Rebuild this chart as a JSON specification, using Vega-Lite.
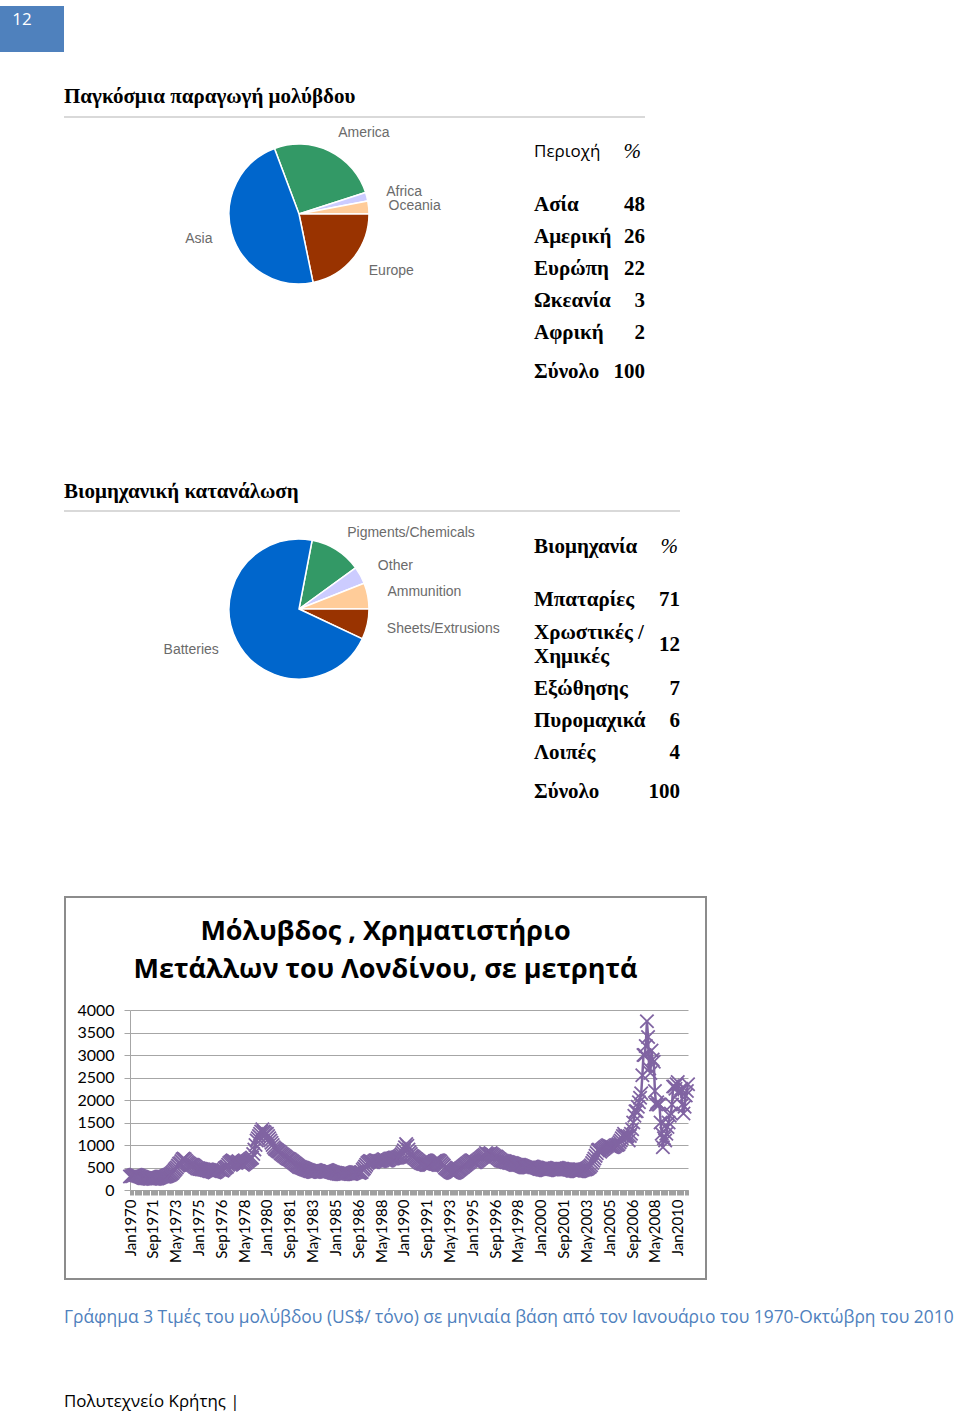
{
"$schema": "https://vega.github.io/schema/vega-lite/v6.json",
"background": "white",
"padding": {"left": 0, "top": 6, "right": 0, "bottom": 12},
"config": {"view": {"stroke": null}},
"datasets": {
"pie1": [{"en":"America","v":26,"o":1},{"en":"Africa","v":2,"o":2},{"en":"Oceania","v":3,"o":3},{"en":"Europe","v":22,"o":4},{"en":"Asia","v":48,"o":5}],
"pie2": [{"en":"Pigments/Chemicals","v":12,"o":1},{"en":"Other","v":4,"o":2},{"en":"Ammunition","v":6,"o":3},{"en":"Sheets/Extrusions","v":7,"o":4},{"en":"Batteries","v":71,"o":5}],
"lead": [
{"m":"Jan1970","p":300},{"m":"Feb1970","p":305},{"m":"Mar1970","p":310},{"m":"Apr1970","p":320},{"m":"May1970","p":330},{"m":"Jun1970","p":335},{"m":"Jul1970","p":330},{"m":"Aug1970","p":320},{"m":"Sep1970","p":310},{"m":"Oct1970","p":300},{"m":"Nov1970","p":290},{"m":"Dec1970","p":280},
{"m":"Jan1971","p":270},{"m":"Feb1971","p":265},{"m":"Mar1971","p":265},{"m":"Apr1971","p":260},{"m":"May1971","p":255},{"m":"Jun1971","p":250},{"m":"Jul1971","p":250},{"m":"Aug1971","p":255},{"m":"Sep1971","p":250},{"m":"Oct1971","p":245},{"m":"Nov1971","p":250},{"m":"Dec1971","p":255},
{"m":"Jan1972","p":260},{"m":"Feb1972","p":270},{"m":"Mar1972","p":280},{"m":"Apr1972","p":290},{"m":"May1972","p":300},{"m":"Jun1972","p":300},{"m":"Jul1972","p":295},{"m":"Aug1972","p":300},{"m":"Sep1972","p":310},{"m":"Oct1972","p":320},{"m":"Nov1972","p":330},{"m":"Dec1972","p":340},
{"m":"Jan1973","p":360},{"m":"Feb1973","p":380},{"m":"Mar1973","p":410},{"m":"Apr1973","p":440},{"m":"May1973","p":470},{"m":"Jun1973","p":500},{"m":"Jul1973","p":540},{"m":"Aug1973","p":580},{"m":"Sep1973","p":600},{"m":"Oct1973","p":640},{"m":"Nov1973","p":680},{"m":"Dec1973","p":700},
{"m":"Jan1974","p":680},{"m":"Feb1974","p":650},{"m":"Mar1974","p":620},{"m":"Apr1974","p":600},{"m":"May1974","p":580},{"m":"Jun1974","p":560},{"m":"Jul1974","p":560},{"m":"Aug1974","p":560},{"m":"Sep1974","p":540},{"m":"Oct1974","p":520},{"m":"Nov1974","p":500},{"m":"Dec1974","p":480},
{"m":"Jan1975","p":480},{"m":"Feb1975","p":470},{"m":"Mar1975","p":470},{"m":"Apr1975","p":460},{"m":"May1975","p":460},{"m":"Jun1975","p":450},{"m":"Jul1975","p":450},{"m":"Aug1975","p":440},{"m":"Sep1975","p":440},{"m":"Oct1975","p":430},{"m":"Nov1975","p":420},{"m":"Dec1975","p":420},
{"m":"Jan1976","p":410},{"m":"Feb1976","p":400},{"m":"Mar1976","p":390},{"m":"Apr1976","p":400},{"m":"May1976","p":420},{"m":"Jun1976","p":440},{"m":"Jul1976","p":460},{"m":"Aug1976","p":450},{"m":"Sep1976","p":440},{"m":"Oct1976","p":430},{"m":"Nov1976","p":450},{"m":"Dec1976","p":480},
{"m":"Jan1977","p":500},{"m":"Feb1977","p":520},{"m":"Mar1977","p":560},{"m":"Apr1977","p":600},{"m":"May1977","p":620},{"m":"Jun1977","p":640},{"m":"Jul1977","p":660},{"m":"Aug1977","p":640},{"m":"Sep1977","p":620},{"m":"Oct1977","p":600},{"m":"Nov1977","p":620},{"m":"Dec1977","p":640},
{"m":"Jan1978","p":620},{"m":"Feb1978","p":600},{"m":"Mar1978","p":580},{"m":"Apr1978","p":560},{"m":"May1978","p":580},{"m":"Jun1978","p":600},{"m":"Jul1978","p":620},{"m":"Aug1978","p":640},{"m":"Sep1978","p":660},{"m":"Oct1978","p":680},{"m":"Nov1978","p":700},{"m":"Dec1978","p":720},
{"m":"Jan1979","p":800},{"m":"Feb1979","p":900},{"m":"Mar1979","p":1000},{"m":"Apr1979","p":1100},{"m":"May1979","p":1150},{"m":"Jun1979","p":1200},{"m":"Jul1979","p":1250},{"m":"Aug1979","p":1300},{"m":"Sep1979","p":1350},{"m":"Oct1979","p":1300},{"m":"Nov1979","p":1280},{"m":"Dec1979","p":1250},
{"m":"Jan1980","p":1250},{"m":"Feb1980","p":1200},{"m":"Mar1980","p":1150},{"m":"Apr1980","p":1100},{"m":"May1980","p":1050},{"m":"Jun1980","p":1000},{"m":"Jul1980","p":950},{"m":"Aug1980","p":920},{"m":"Sep1980","p":900},{"m":"Oct1980","p":880},{"m":"Nov1980","p":860},{"m":"Dec1980","p":850},
{"m":"Jan1981","p":820},{"m":"Feb1981","p":800},{"m":"Mar1981","p":780},{"m":"Apr1981","p":760},{"m":"May1981","p":740},{"m":"Jun1981","p":720},{"m":"Jul1981","p":700},{"m":"Aug1981","p":690},{"m":"Sep1981","p":680},{"m":"Oct1981","p":660},{"m":"Nov1981","p":640},{"m":"Dec1981","p":620},
{"m":"Jan1982","p":600},{"m":"Feb1982","p":580},{"m":"Mar1982","p":560},{"m":"Apr1982","p":540},{"m":"May1982","p":520},{"m":"Jun1982","p":510},{"m":"Jul1982","p":500},{"m":"Aug1982","p":490},{"m":"Sep1982","p":480},{"m":"Oct1982","p":470},{"m":"Nov1982","p":460},{"m":"Dec1982","p":450},
{"m":"Jan1983","p":440},{"m":"Feb1983","p":430},{"m":"Mar1983","p":420},{"m":"Apr1983","p":420},{"m":"May1983","p":410},{"m":"Jun1983","p":400},{"m":"Jul1983","p":400},{"m":"Aug1983","p":410},{"m":"Sep1983","p":420},{"m":"Oct1983","p":420},{"m":"Nov1983","p":410},{"m":"Dec1983","p":400},
{"m":"Jan1984","p":400},{"m":"Feb1984","p":410},{"m":"Mar1984","p":420},{"m":"Apr1984","p":430},{"m":"May1984","p":440},{"m":"Jun1984","p":440},{"m":"Jul1984","p":430},{"m":"Aug1984","p":420},{"m":"Sep1984","p":410},{"m":"Oct1984","p":400},{"m":"Nov1984","p":390},{"m":"Dec1984","p":380},
{"m":"Jan1985","p":380},{"m":"Feb1985","p":370},{"m":"Mar1985","p":370},{"m":"Apr1985","p":360},{"m":"May1985","p":360},{"m":"Jun1985","p":350},{"m":"Jul1985","p":350},{"m":"Aug1985","p":350},{"m":"Sep1985","p":360},{"m":"Oct1985","p":360},{"m":"Nov1985","p":370},{"m":"Dec1985","p":370},
{"m":"Jan1986","p":370},{"m":"Feb1986","p":360},{"m":"Mar1986","p":360},{"m":"Apr1986","p":370},{"m":"May1986","p":380},{"m":"Jun1986","p":390},{"m":"Jul1986","p":400},{"m":"Aug1986","p":400},{"m":"Sep1986","p":390},{"m":"Oct1986","p":380},{"m":"Nov1986","p":390},{"m":"Dec1986","p":400},
{"m":"Jan1987","p":450},{"m":"Feb1987","p":480},{"m":"Mar1987","p":520},{"m":"Apr1987","p":560},{"m":"May1987","p":600},{"m":"Jun1987","p":620},{"m":"Jul1987","p":640},{"m":"Aug1987","p":640},{"m":"Sep1987","p":620},{"m":"Oct1987","p":620},{"m":"Nov1987","p":640},{"m":"Dec1987","p":660},
{"m":"Jan1988","p":660},{"m":"Feb1988","p":650},{"m":"Mar1988","p":640},{"m":"Apr1988","p":640},{"m":"May1988","p":650},{"m":"Jun1988","p":660},{"m":"Jul1988","p":680},{"m":"Aug1988","p":680},{"m":"Sep1988","p":660},{"m":"Oct1988","p":650},{"m":"Nov1988","p":660},{"m":"Dec1988","p":680},
{"m":"Jan1989","p":700},{"m":"Feb1989","p":700},{"m":"Mar1989","p":700},{"m":"Apr1989","p":710},{"m":"May1989","p":720},{"m":"Jun1989","p":720},{"m":"Jul1989","p":720},{"m":"Aug1989","p":730},{"m":"Sep1989","p":740},{"m":"Oct1989","p":760},{"m":"Nov1989","p":790},{"m":"Dec1989","p":830},
{"m":"Jan1990","p":880},{"m":"Feb1990","p":950},{"m":"Mar1990","p":1020},{"m":"Apr1990","p":980},{"m":"May1990","p":900},{"m":"Jun1990","p":840},{"m":"Jul1990","p":800},{"m":"Aug1990","p":760},{"m":"Sep1990","p":740},{"m":"Oct1990","p":720},{"m":"Nov1990","p":700},{"m":"Dec1990","p":680},
{"m":"Jan1991","p":660},{"m":"Feb1991","p":640},{"m":"Mar1991","p":620},{"m":"Apr1991","p":600},{"m":"May1991","p":590},{"m":"Jun1991","p":580},{"m":"Jul1991","p":580},{"m":"Aug1991","p":570},{"m":"Sep1991","p":560},{"m":"Oct1991","p":560},{"m":"Nov1991","p":560},{"m":"Dec1991","p":560},
{"m":"Jan1992","p":580},{"m":"Feb1992","p":600},{"m":"Mar1992","p":620},{"m":"Apr1992","p":640},{"m":"May1992","p":650},{"m":"Jun1992","p":660},{"m":"Jul1992","p":660},{"m":"Aug1992","p":650},{"m":"Sep1992","p":630},{"m":"Oct1992","p":600},{"m":"Nov1992","p":570},{"m":"Dec1992","p":540},
{"m":"Jan1993","p":500},{"m":"Feb1993","p":480},{"m":"Mar1993","p":460},{"m":"Apr1993","p":440},{"m":"May1993","p":420},{"m":"Jun1993","p":400},{"m":"Jul1993","p":390},{"m":"Aug1993","p":380},{"m":"Sep1993","p":380},{"m":"Oct1993","p":390},{"m":"Nov1993","p":400},{"m":"Dec1993","p":420},
{"m":"Jan1994","p":440},{"m":"Feb1994","p":460},{"m":"Mar1994","p":480},{"m":"Apr1994","p":500},{"m":"May1994","p":520},{"m":"Jun1994","p":540},{"m":"Jul1994","p":560},{"m":"Aug1994","p":580},{"m":"Sep1994","p":600},{"m":"Oct1994","p":620},{"m":"Nov1994","p":640},{"m":"Dec1994","p":660},
{"m":"Jan1995","p":660},{"m":"Feb1995","p":640},{"m":"Mar1995","p":620},{"m":"Apr1995","p":620},{"m":"May1995","p":640},{"m":"Jun1995","p":660},{"m":"Jul1995","p":680},{"m":"Aug1995","p":700},{"m":"Sep1995","p":720},{"m":"Oct1995","p":740},{"m":"Nov1995","p":760},{"m":"Dec1995","p":780},
{"m":"Jan1996","p":820},{"m":"Feb1996","p":800},{"m":"Mar1996","p":790},{"m":"Apr1996","p":800},{"m":"May1996","p":820},{"m":"Jun1996","p":800},{"m":"Jul1996","p":780},{"m":"Aug1996","p":760},{"m":"Sep1996","p":740},{"m":"Oct1996","p":740},{"m":"Nov1996","p":720},{"m":"Dec1996","p":700},
{"m":"Jan1997","p":680},{"m":"Feb1997","p":660},{"m":"Mar1997","p":650},{"m":"Apr1997","p":640},{"m":"May1997","p":640},{"m":"Jun1997","p":630},{"m":"Jul1997","p":620},{"m":"Aug1997","p":620},{"m":"Sep1997","p":610},{"m":"Oct1997","p":600},{"m":"Nov1997","p":600},{"m":"Dec1997","p":590},
{"m":"Jan1998","p":580},{"m":"Feb1998","p":570},{"m":"Mar1998","p":560},{"m":"Apr1998","p":560},{"m":"May1998","p":560},{"m":"Jun1998","p":560},{"m":"Jul1998","p":550},{"m":"Aug1998","p":540},{"m":"Sep1998","p":530},{"m":"Oct1998","p":520},{"m":"Nov1998","p":510},{"m":"Dec1998","p":500},
{"m":"Jan1999","p":500},{"m":"Feb1999","p":500},{"m":"Mar1999","p":500},{"m":"Apr1999","p":510},{"m":"May1999","p":520},{"m":"Jun1999","p":520},{"m":"Jul1999","p":510},{"m":"Aug1999","p":500},{"m":"Sep1999","p":500},{"m":"Oct1999","p":490},{"m":"Nov1999","p":480},{"m":"Dec1999","p":470},
{"m":"Jan2000","p":470},{"m":"Feb2000","p":460},{"m":"Mar2000","p":450},{"m":"Apr2000","p":450},{"m":"May2000","p":440},{"m":"Jun2000","p":440},{"m":"Jul2000","p":440},{"m":"Aug2000","p":450},{"m":"Sep2000","p":460},{"m":"Oct2000","p":470},{"m":"Nov2000","p":470},{"m":"Dec2000","p":470},
{"m":"Jan2001","p":480},{"m":"Feb2001","p":480},{"m":"Mar2001","p":490},{"m":"Apr2001","p":490},{"m":"May2001","p":480},{"m":"Jun2001","p":470},{"m":"Jul2001","p":470},{"m":"Aug2001","p":470},{"m":"Sep2001","p":460},{"m":"Oct2001","p":460},{"m":"Nov2001","p":460},{"m":"Dec2001","p":460},
{"m":"Jan2002","p":460},{"m":"Feb2002","p":450},{"m":"Mar2002","p":450},{"m":"Apr2002","p":440},{"m":"May2002","p":430},{"m":"Jun2002","p":430},{"m":"Jul2002","p":430},{"m":"Aug2002","p":420},{"m":"Sep2002","p":420},{"m":"Oct2002","p":420},{"m":"Nov2002","p":420},{"m":"Dec2002","p":430},
{"m":"Jan2003","p":440},{"m":"Feb2003","p":450},{"m":"Mar2003","p":460},{"m":"Apr2003","p":460},{"m":"May2003","p":470},{"m":"Jun2003","p":480},{"m":"Jul2003","p":500},{"m":"Aug2003","p":520},{"m":"Sep2003","p":550},{"m":"Oct2003","p":600},{"m":"Nov2003","p":650},{"m":"Dec2003","p":700},
{"m":"Jan2004","p":760},{"m":"Feb2004","p":820},{"m":"Mar2004","p":880},{"m":"Apr2004","p":900},{"m":"May2004","p":850},{"m":"Jun2004","p":880},{"m":"Jul2004","p":900},{"m":"Aug2004","p":920},{"m":"Sep2004","p":940},{"m":"Oct2004","p":960},{"m":"Nov2004","p":980},{"m":"Dec2004","p":1000},
{"m":"Jan2005","p":980},{"m":"Feb2005","p":970},{"m":"Mar2005","p":960},{"m":"Apr2005","p":950},{"m":"May2005","p":960},{"m":"Jun2005","p":980},{"m":"Jul2005","p":1000},{"m":"Aug2005","p":1000},{"m":"Sep2005","p":1020},{"m":"Oct2005","p":1060},{"m":"Nov2005","p":1100},{"m":"Dec2005","p":1150},
{"m":"Jan2006","p":1200},{"m":"Feb2006","p":1250},{"m":"Mar2006","p":1200},{"m":"Apr2006","p":1180},{"m":"May2006","p":1200},{"m":"Jun2006","p":1100},{"m":"Jul2006","p":1200},{"m":"Aug2006","p":1250},{"m":"Sep2006","p":1350},{"m":"Oct2006","p":1500},{"m":"Nov2006","p":1650},{"m":"Dec2006","p":1750},
{"m":"Jan2007","p":1750},{"m":"Feb2007","p":1850},{"m":"Mar2007","p":1950},{"m":"Apr2007","p":2050},{"m":"May2007","p":2150},{"m":"Jun2007","p":2550},{"m":"Jul2007","p":3000},{"m":"Aug2007","p":3000},{"m":"Sep2007","p":3200},{"m":"Oct2007","p":3750},{"m":"Nov2007","p":3400},{"m":"Dec2007","p":2700},
{"m":"Jan2008","p":2600},{"m":"Feb2008","p":3100},{"m":"Mar2008","p":2900},{"m":"Apr2008","p":2850},{"m":"May2008","p":2200},{"m":"Jun2008","p":1900},{"m":"Jul2008","p":1950},{"m":"Aug2008","p":1900},{"m":"Sep2008","p":1900},{"m":"Oct2008","p":1500},{"m":"Nov2008","p":1250},{"m":"Dec2008","p":950},
{"m":"Jan2009","p":1150},{"m":"Feb2009","p":1100},{"m":"Mar2009","p":1250},{"m":"Apr2009","p":1400},{"m":"May2009","p":1500},{"m":"Jun2009","p":1650},{"m":"Jul2009","p":1700},{"m":"Aug2009","p":1900},{"m":"Sep2009","p":2300},{"m":"Oct2009","p":2300},{"m":"Nov2009","p":2250},{"m":"Dec2009","p":2350},
{"m":"Jan2010","p":2400},{"m":"Feb2010","p":2150},{"m":"Mar2010","p":2200},{"m":"Apr2010","p":2250},{"m":"May2010","p":1900},{"m":"Jun2010","p":1700},{"m":"Jul2010","p":1850},{"m":"Aug2010","p":2100},{"m":"Sep2010","p":2200},{"m":"Oct2010","p":2350}
]
},
"spacing": 64,
"bounds": "flush",
"vconcat": [
  {"width": 64, "height": 46, "view": {"fill": "#4F81BD", "stroke": null},
   "data": {"values": [{"t": "12"}]},
   "mark": {"type": "text", "color": "white", "font": "Open Sans", "fontSize": 17, "dx": -10, "dy": -9, "baseline": "middle"},
   "encoding": {"text": {"field": "t"}}},
  {"spacing": 0, "bounds": "flush", "hconcat": [
    {"width": 64, "height": 1, "data": {"values": []}, "mark": "text"},
    {"spacing": 7, "bounds": "flush", "vconcat": [
      {"width": 581, "height": 2, "view": {"fill": "#d9d9d9", "stroke": null},
       "title": {"text": "Παγκόσμια παραγωγή μολύβδου", "anchor": "start", "font": "Liberation Serif", "fontSize": 21, "fontWeight": "bold", "color": "black", "baseline": "alphabetic", "offset": -8},
       "data": {"values": []}, "mark": "text"},
      {"spacing": 385, "bounds": "flush", "vconcat": [
        {"spacing": 0, "bounds": "flush", "hconcat": [
          {"width": 470, "height": 178, "data": {"name": "pie1"},
           "layer": [
             {"mark": {"type": "arc", "radius": 70, "stroke": "white", "strokeWidth": 1.5},
              "encoding": {
                "theta": {"field": "v", "type": "quantitative", "stack": true, "scale": {"range": [-0.358, 5.925]}},
                "color": {"field": "en", "type": "nominal", "legend": null, "scale": {"domain": ["America","Africa","Oceania","Europe","Asia"], "range": ["#339966","#CCCCFF","#FFCC99","#993300","#0066CC"]}},
                "order": {"field": "o"}}},
             {"mark": {"type": "text", "radius": 90, "align": "left", "baseline": "middle", "font": "Liberation Sans", "fontSize": 14, "fill": "#6b6b6b"},
              "encoding": {
                "theta": {"field": "v", "type": "quantitative", "stack": true},
                "detail": {"field": "en"}, "order": {"field": "o"},
                "text": {"condition": {"test": "datum.en !== 'Asia'", "field": "en"}, "value": ""}}},
             {"mark": {"type": "text", "radius": 90, "align": "right", "baseline": "middle", "font": "Liberation Sans", "fontSize": 14, "fill": "#6b6b6b"},
              "encoding": {
                "theta": {"field": "v", "type": "quantitative", "stack": true},
                "detail": {"field": "en"}, "order": {"field": "o"},
                "text": {"condition": {"test": "datum.en === 'Asia'", "field": "en"}, "value": ""}}}
           ]},
          {"spacing": 10, "bounds": "flush", "vconcat": [
            {"width": 111, "height": 54, "data": {"values": [{"k": "Περιοχή", "v": "%"}]},
             "layer": [
               {"mark": {"type": "text", "align": "left", "baseline": "middle", "font": "Open Sans", "fontSize": 17, "color": "black"},
                "encoding": {"x": {"datum": "k", "type": "nominal", "scale": {"domain": ["k","v"], "padding": 0}, "axis": null}, "text": {"field": "k"}}},
               {"mark": {"type": "text", "align": "right", "baseline": "middle", "font": "Liberation Serif", "fontStyle": "italic", "fontSize": 21, "color": "black", "dx": -4},
                "encoding": {"x": {"datum": "v", "type": "nominal"}, "text": {"field": "v"}}}
             ]},
            {"width": 111, "height": 160,
             "data": {"values": [{"k":"Ασία","v":"48"},{"k":"Αμερική","v":"26"},{"k":"Ευρώπη","v":"22"},{"k":"Ωκεανία","v":"3"},{"k":"Αφρική","v":"2"}]},
             "encoding": {"y": {"field": "k", "type": "nominal", "sort": null, "scale": {"padding": 0.5}, "axis": null}},
             "layer": [
               {"mark": {"type": "text", "align": "left", "baseline": "middle", "font": "Liberation Serif", "fontWeight": "bold", "fontSize": 21, "color": "black"},
                "encoding": {"x": {"datum": "k", "type": "nominal", "scale": {"domain": ["k","v"], "padding": 0}, "axis": null}, "text": {"field": "k"}}},
               {"mark": {"type": "text", "align": "right", "baseline": "middle", "font": "Liberation Serif", "fontWeight": "bold", "fontSize": 21, "color": "black"},
                "encoding": {"x": {"datum": "v", "type": "nominal"}, "text": {"field": "v"}}}
             ]},
            {"width": 111, "height": 26, "data": {"values": [{"k": "Σύνολο", "v": "100"}]},
             "layer": [
               {"mark": {"type": "text", "align": "left", "baseline": "middle", "font": "Liberation Serif", "fontWeight": "bold", "fontSize": 21, "color": "black"},
                "encoding": {"x": {"datum": "k", "type": "nominal", "scale": {"domain": ["k","v"], "padding": 0}, "axis": null}, "text": {"field": "k"}}},
               {"mark": {"type": "text", "align": "right", "baseline": "middle", "font": "Liberation Serif", "fontWeight": "bold", "fontSize": 21, "color": "black"},
                "encoding": {"x": {"datum": "v", "type": "nominal"}, "text": {"field": "v"}}}
             ]}
          ]}
        ]},
        {"spacing": 10, "bounds": "flush", "vconcat": [
          {"width": 616, "height": 2, "view": {"fill": "#d9d9d9", "stroke": null},
           "title": {"text": "Βιομηχανική κατανάλωση", "anchor": "start", "font": "Liberation Serif", "fontSize": 21, "fontWeight": "bold", "color": "black", "baseline": "alphabetic", "offset": -9},
           "data": {"values": []}, "mark": "text"},
          {"spacing": 374, "bounds": "flush", "vconcat": [
            {"spacing": 0, "bounds": "flush", "hconcat": [
              {"width": 470, "height": 174, "data": {"name": "pie2"},
               "layer": [
                 {"mark": {"type": "arc", "radius": 70, "stroke": "white", "strokeWidth": 1.5},
                  "encoding": {
                    "theta": {"field": "v", "type": "quantitative", "stack": true, "scale": {"range": [0.1885, 6.4717]}},
                    "color": {"field": "en", "type": "nominal", "legend": null, "scale": {"domain": ["Pigments/Chemicals","Other","Ammunition","Sheets/Extrusions","Batteries"], "range": ["#339966","#CCCCFF","#FFCC99","#993300","#0066CC"]}},
                    "order": {"field": "o"}}},
                 {"mark": {"type": "text", "radius": 90, "align": "left", "baseline": "middle", "font": "Liberation Sans", "fontSize": 14, "fill": "#6b6b6b"},
                  "encoding": {
                    "theta": {"field": "v", "type": "quantitative", "stack": true},
                    "detail": {"field": "en"}, "order": {"field": "o"},
                    "text": {"condition": {"test": "datum.en !== 'Batteries'", "field": "en"}, "value": ""}}},
                 {"mark": {"type": "text", "radius": 90, "align": "right", "baseline": "middle", "font": "Liberation Sans", "fontSize": 14, "fill": "#6b6b6b"},
                  "encoding": {
                    "theta": {"field": "v", "type": "quantitative", "stack": true},
                    "detail": {"field": "en"}, "order": {"field": "o"},
                    "text": {"condition": {"test": "datum.en === 'Batteries'", "field": "en"}, "value": ""}}}
               ]},
              {"spacing": 5.5, "bounds": "flush", "vconcat": [
                {"width": 146, "height": 50, "data": {"values": [{"k": "Βιομηχανία", "v": "%"}]},
                 "layer": [
                   {"mark": {"type": "text", "align": "left", "baseline": "middle", "font": "Liberation Serif", "fontWeight": "bold", "fontSize": 21, "color": "black"},
                    "encoding": {"x": {"datum": "k", "type": "nominal", "scale": {"domain": ["k","v"], "padding": 0}, "axis": null}, "text": {"field": "k"}}},
                   {"mark": {"type": "text", "align": "right", "baseline": "middle", "font": "Liberation Serif", "fontStyle": "italic", "fontSize": 21, "color": "black", "dx": -2},
                    "encoding": {"x": {"datum": "v", "type": "nominal"}, "text": {"field": "v"}}}
                 ]},
                {"width": 146, "height": 90,
                 "data": {"values": [{"k":"Μπαταρίες","v":"71"},{"k":"Χρωστικές /\nΧημικές","v":"12"}]},
                 "encoding": {"y": {"field": "k", "type": "nominal", "sort": null, "scale": {"padding": 0.5}, "axis": null}},
                 "layer": [
                   {"mark": {"type": "text", "align": "left", "baseline": "middle", "font": "Liberation Serif", "fontWeight": "bold", "fontSize": 21, "color": "black"},
                    "encoding": {"x": {"datum": "k", "type": "nominal", "scale": {"domain": ["k","v"], "padding": 0}, "axis": null},
                                 "text": {"condition": {"test": "datum.v !== '12'", "field": "k"}, "value": ""}}},
                   {"mark": {"type": "text", "align": "left", "baseline": "middle", "font": "Liberation Serif", "fontWeight": "bold", "fontSize": 21, "color": "black", "lineBreak": "\n", "lineHeight": 24, "dy": -12},
                    "encoding": {"x": {"datum": "k", "type": "nominal"},
                                 "text": {"condition": {"test": "datum.v === '12'", "field": "k"}, "value": ""}}},
                   {"mark": {"type": "text", "align": "right", "baseline": "middle", "font": "Liberation Serif", "fontWeight": "bold", "fontSize": 21, "color": "black"},
                    "encoding": {"x": {"datum": "v", "type": "nominal"}, "text": {"field": "v"}}}
                 ]},
                {"width": 146, "height": 96,
                 "data": {"values": [{"k":"Εξώθησης","v":"7"},{"k":"Πυρομαχικά","v":"6"},{"k":"Λοιπές","v":"4"}]},
                 "encoding": {"y": {"field": "k", "type": "nominal", "sort": null, "scale": {"padding": 0.5}, "axis": null}},
                 "layer": [
                   {"mark": {"type": "text", "align": "left", "baseline": "middle", "font": "Liberation Serif", "fontWeight": "bold", "fontSize": 21, "color": "black"},
                    "encoding": {"x": {"datum": "k", "type": "nominal", "scale": {"domain": ["k","v"], "padding": 0}, "axis": null}, "text": {"field": "k"}}},
                   {"mark": {"type": "text", "align": "right", "baseline": "middle", "font": "Liberation Serif", "fontWeight": "bold", "fontSize": 21, "color": "black"},
                    "encoding": {"x": {"datum": "v", "type": "nominal"}, "text": {"field": "v"}}}
                 ]},
                {"width": 146, "height": 35, "data": {"values": [{"k": "Σύνολο", "v": "100"}]},
                 "layer": [
                   {"mark": {"type": "text", "align": "left", "baseline": "middle", "font": "Liberation Serif", "fontWeight": "bold", "fontSize": 21, "color": "black"},
                    "encoding": {"x": {"datum": "k", "type": "nominal", "scale": {"domain": ["k","v"], "padding": 0}, "axis": null}, "text": {"field": "k"}}},
                   {"mark": {"type": "text", "align": "right", "baseline": "middle", "font": "Liberation Serif", "fontWeight": "bold", "fontSize": 21, "color": "black"},
                    "encoding": {"x": {"datum": "v", "type": "nominal"}, "text": {"field": "v"}}}
                 ]}
              ]}
            ]},
            {"spacing": 0, "bounds": "flush",
             "title": {"text": "Γράφημα 3  Τιμές του μολύβδου (US$/ τόνο) σε μηνιαία βάση από τον Ιανουάριο του 1970-Οκτώβρη  του 2010", "subtitle": "Πολυτεχνείο Κρήτης |", "orient": "bottom", "anchor": "start", "font": "Open Sans", "fontSize": 17.4, "fontWeight": "normal", "color": "#4F81BD", "subtitleFont": "Open Sans", "subtitleFontSize": 16.9, "subtitleColor": "black", "subtitlePadding": 68, "offset": 29, "baseline": "top"},
             "hconcat": [
              {"width": 2, "height": 384, "view": {"fill": "#8c8c8c", "stroke": null}, "data": {"values": []}, "mark": "text"},
              {"spacing": 639, "bounds": "flush", "hconcat": [
                {"spacing": 112, "bounds": "flush", "vconcat": [
                  {"width": 639, "height": 2, "view": {"fill": "#8c8c8c", "stroke": null},
                   "title": {"text": ["Μόλυβδος , Χρηματιστήριο", "Μετάλλων του Λονδίνου, σε μετρητά"], "orient": "bottom", "anchor": "middle", "font": "Open Sans", "fontSize": 27, "fontWeight": "bold", "color": "black", "lineHeight": 38, "baseline": "top", "offset": 21},
                   "data": {"values": []}, "mark": "text"},
                  {"spacing": 268, "bounds": "flush", "vconcat": [
                    {"spacing": 63, "bounds": "flush", "hconcat": [
                      {"width": 1, "height": 1, "data": {"values": []}, "mark": "text"},
                      {"width": 558, "height": 180, "data": {"name": "lead"},
                       "encoding": {
                         "x": {"field": "m", "type": "ordinal", "sort": null, "scale": {"type": "point", "padding": 0},
                               "axis": {"title": null, "labelAngle": -90, "labelOverlap": false, "labelBound": false, "labelFlush": false,
                                        "labelExpr": "indexof(['Jan1970','Sep1971','May1973','Jan1975','Sep1976','May1978','Jan1980','Sep1981','May1983','Jan1985','Sep1986','May1988','Jan1990','Sep1991','May1993','Jan1995','Sep1996','May1998','Jan2000','Sep2001','May2003','Jan2005','Sep2006','May2008','Jan2010'], datum.value) >= 0 ? datum.value : ''",
                                        "labelFont": "Lato", "labelFontSize": 15, "labelColor": "black", "labelPadding": 4,
                                        "tickSize": 5, "tickColor": "#a0a0a0", "domainColor": "#a0a0a0", "grid": false}},
                         "y": {"field": "p", "type": "quantitative", "scale": {"domain": [0, 4000], "nice": false},
                               "axis": {"title": null, "values": [0,500,1000,1500,2000,2500,3000,3500,4000], "format": "d", "grid": true, "gridColor": "#a6a6a6",
                                        "domainColor": "#a6a6a6", "tickColor": "#a6a6a6", "tickSize": 6, "labelFont": "Lato", "labelFontSize": 16,
                                        "labelColor": "black", "labelPadding": 10}}},
                       "layer": [
                         {"mark": {"type": "line", "color": "#8064A2", "strokeWidth": 2.5}},
                         {"mark": {"type": "point", "shape": "M-1,-1L1,1M-1,1L1,-1", "size": 180, "filled": false, "color": "#8064A2", "strokeWidth": 1.8, "opacity": 1}}
                       ]}
                    ]},
                    {"width": 639, "height": 2, "view": {"fill": "#8c8c8c", "stroke": null}, "data": {"values": []}, "mark": "text"}
                  ]}
                ]},
                {"width": 2, "height": 384, "view": {"fill": "#8c8c8c", "stroke": null}, "data": {"values": []}, "mark": "text"}
              ]}
            ]}
          ]}
        ]}
      ]}
    ]}
  ]}
]
}
